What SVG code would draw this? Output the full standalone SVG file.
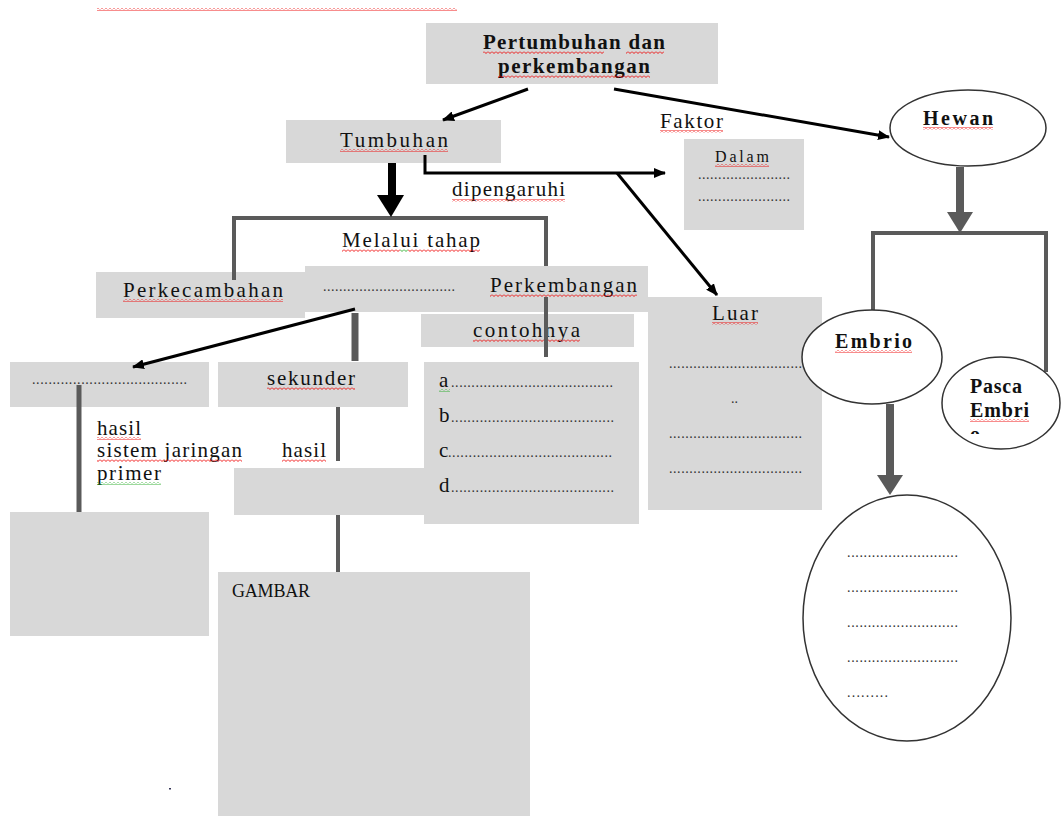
<svg xmlns="http://www.w3.org/2000/svg" width="1061" height="816" viewBox="0 0 1061 816">
<style>
.box{fill:#d8d8d8}
.t{font-family:"Liberation Serif","Times New Roman",serif;font-size:21px;fill:#111}
.b{font-weight:bold}
.d{font-family:"Liberation Serif","Times New Roman",serif;font-size:14px;fill:#333}
.g{stroke:#5a5a5a;fill:none}
.k{stroke:#000;fill:none;stroke-width:3}
.ell{fill:#fff;stroke:#333;stroke-width:1.5}
.sq{fill:url(#red)}
.sg{fill:url(#grn)}
</style>
<defs>
<pattern id="red" patternUnits="userSpaceOnUse" width="4" height="3"><path d="M0,0.5 L2,2.5 L4,0.5" stroke="#e00" stroke-width="0.9" fill="none"/></pattern>
<pattern id="grn" patternUnits="userSpaceOnUse" width="4" height="3"><path d="M0,0.5 L2,2.5 L4,0.5" stroke="#2a2" stroke-width="0.9" fill="none"/></pattern>
<marker id="ah" viewBox="0 0 12 10" refX="11" refY="5" markerWidth="12" markerHeight="10" markerUnits="userSpaceOnUse" orient="auto"><path d="M0,0 L12,5 L0,10 Z" fill="#000"/></marker>
<clipPath id="pclip"><rect x="940" y="355" width="121" height="79"/></clipPath>
</defs>

<rect class="sq" x="97" y="8" width="360" height="3"/>

<g id="n-title"><rect class="box" x="426" y="23" width="292" height="61"/>
<text class="t b" x="574" y="49" text-anchor="middle" textLength="182" lengthAdjust="spacing">Pertumbuhan dan</text>
<text class="t b" x="574" y="73" text-anchor="middle" textLength="152" lengthAdjust="spacing">perkembangan</text>
<rect class="sq" x="483" y="51" width="121" height="3"/><rect class="sq" x="626" y="51" width="38" height="3"/>
<rect class="sq" x="498" y="75" width="152" height="3"/></g>

<g id="n-tumbuhan"><rect class="box" x="286" y="120" width="215" height="43"/>
<text class="t" x="340" y="147" textLength="108" lengthAdjust="spacing">Tumbuhan</text>
<rect class="sq" x="340" y="149" width="108" height="3"/></g>

<g id="n-faktor"><text class="t" x="660" y="128" textLength="63" lengthAdjust="spacing">Faktor</text>
<rect class="sq" x="660" y="130" width="63" height="3"/></g>

<g id="n-dalam"><rect class="box" x="684" y="139" width="120" height="91"/>
<text class="t" style="font-size:16px" x="715" y="162" textLength="54" lengthAdjust="spacing">Dalam</text>
<rect class="sq" x="715" y="164" width="54" height="3"/>
<text class="d" x="698" y="179" textLength="92" lengthAdjust="spacing">.......................</text>
<text class="d" x="698" y="201" textLength="92" lengthAdjust="spacing">.......................</text></g>

<g id="n-dipengaruhi"><text class="t" x="452" y="196" textLength="113" lengthAdjust="spacing">dipengaruhi</text>
<rect class="sq" x="452" y="199" width="113" height="3"/></g>

<g id="n-melalui"><text class="t" x="342" y="247" textLength="138" lengthAdjust="spacing">Melalui tahap</text>
<rect class="sq" x="342" y="249" width="58" height="3"/><rect class="sg" x="400" y="249" width="8" height="3"/><rect class="sq" x="408" y="249" width="72" height="3"/></g>

<g id="n-perkecambahan"><rect class="box" x="96" y="272" width="209" height="46"/>
<text class="t" x="123" y="297" textLength="160" lengthAdjust="spacing">Perkecambahan</text>
<rect class="sq" x="123" y="299" width="160" height="3"/></g>

<g id="n-perkembangan"><rect class="box" x="305" y="266" width="343" height="46"/>
<text class="d" x="323" y="291" textLength="132" lengthAdjust="spacing">.................................</text>
<text class="t" x="490" y="292" textLength="147" lengthAdjust="spacing">Perkembangan</text>
<rect class="sq" x="490" y="294" width="147" height="3"/></g>

<g id="n-contohnya"><rect class="box" x="421" y="314" width="213" height="33"/>
<text class="t" x="473" y="337" textLength="107" lengthAdjust="spacing">contohnya</text>
<rect class="sq" x="473" y="339" width="107" height="3"/></g>

<g id="n-primer-box"><rect class="box" x="10" y="362" width="199" height="45"/>
<text class="d" x="32" y="384" textLength="155" lengthAdjust="spacing">......................................</text></g>

<g id="n-sekunder"><rect class="box" x="218" y="362" width="190" height="45"/>
<text class="t" x="267" y="385" textLength="88" lengthAdjust="spacing">sekunder</text>
<rect class="sq" x="267" y="387" width="88" height="3"/></g>

<g id="n-hasil1"><text class="t" x="97" y="435" textLength="44" lengthAdjust="spacing">hasil</text>
<text class="t" x="97" y="457" textLength="145" lengthAdjust="spacing">sistem jaringan</text>
<text class="t" x="97" y="480" textLength="64" lengthAdjust="spacing">primer</text>
<rect class="sq" x="97" y="437" width="44" height="3"/><rect class="sq" x="97" y="459" width="145" height="3"/><rect class="sg" x="97" y="482" width="64" height="3"/></g>

<g id="n-hasil2"><text class="t" x="282" y="457" textLength="44" lengthAdjust="spacing">hasil</text>
<rect class="sq" x="282" y="459" width="44" height="3"/></g>

<g id="n-hasil-box"><rect class="box" x="234" y="468" width="192" height="47"/></g>

<g id="n-contoh-list"><rect class="box" x="424" y="362" width="215" height="162"/>
<text class="t" x="439" y="387">a</text><text class="d" x="451" y="387" textLength="162" lengthAdjust="spacing">........................................</text>
<rect class="sg" x="439" y="389" width="11" height="3"/>
<text class="t" x="439" y="422">b</text><text class="d" x="451" y="422" textLength="163" lengthAdjust="spacing">........................................</text>
<text class="t" x="439" y="457">c</text><text class="d" x="448" y="457" textLength="164" lengthAdjust="spacing">........................................</text>
<text class="t" x="439" y="492">d</text><text class="d" x="451" y="492" textLength="163" lengthAdjust="spacing">........................................</text></g>

<g id="n-luar"><rect class="box" x="648" y="297" width="174" height="213"/>
<text class="t" x="712" y="320" textLength="46" lengthAdjust="spacing">Luar</text>
<rect class="sq" x="712" y="322" width="46" height="3"/>
<text class="d" x="669" y="368" textLength="133" lengthAdjust="spacing">.................................</text>
<text class="d" x="731" y="403">..</text>
<text class="d" x="669" y="438" textLength="133" lengthAdjust="spacing">.................................</text>
<text class="d" x="669" y="473" textLength="133" lengthAdjust="spacing">.................................</text></g>

<g id="n-left-lower"><rect class="box" x="10" y="512" width="199" height="124"/></g>

<g id="n-gambar"><rect class="box" x="218" y="572" width="312" height="244"/>
<text class="t" style="font-size:18px" x="232" y="597" textLength="78" lengthAdjust="spacing">GAMBAR</text></g>

<g id="n-dot"><rect x="169" y="788" width="2" height="1.5" fill="#335"/></g>

<g id="connectors">
<path class="g" stroke-width="4" d="M234,280 V218 H546 V266"/>
<path class="g" stroke-width="4" d="M546,297 V357"/>
<path class="g" stroke-width="7" d="M355,313 V361"/>
<path class="g" stroke-width="5" d="M79,385 V512"/>
<path class="g" stroke-width="4" d="M338,407 V461"/>
<path class="g" stroke-width="4" d="M338,515 V572"/>
<path class="k" d="M528,89 L443,120" marker-end="url(#ah)"/>
<path class="k" d="M614,89 L889,137" marker-end="url(#ah)"/>
<path class="k" d="M425,155 V173 H665" marker-end="url(#ah)"/>
<path class="k" d="M617,173 L717,295" marker-end="url(#ah)"/>
<path class="k" d="M355,309 L133,367" marker-end="url(#ah)"/>
<path stroke="#000" stroke-width="8" d="M392,163 V198"/>
<path fill="#000" d="M377,195 L404,195 L391,217 Z"/>
<path stroke="#5a5a5a" stroke-width="8" d="M960,167 V215"/>
<path fill="#5a5a5a" d="M947,212 L973,212 L960,233 Z"/>
<path class="g" stroke-width="4" d="M873,311 V233 H1046 V372"/>
<path stroke="#5a5a5a" stroke-width="8" d="M890,404 V478"/>
<path fill="#5a5a5a" d="M877,475 L903,475 L890,495 Z"/>
</g>

<g id="n-hewan"><ellipse class="ell" cx="968" cy="128" rx="78" ry="38"/>
<text class="t b" style="font-size:20px" x="923" y="125" textLength="70" lengthAdjust="spacing">Hewan</text>
<rect class="sq" x="923" y="127" width="70" height="3"/></g>

<g id="n-embrio"><ellipse class="ell" cx="872" cy="357" rx="70" ry="47"/>
<text class="t b" style="font-size:20px" x="835" y="348" textLength="77" lengthAdjust="spacing">Embrio</text>
<rect class="sq" x="835" y="350" width="77" height="3"/></g>

<g id="n-pasca"><ellipse class="ell" cx="1001" cy="403" rx="59" ry="46"/>
<text class="t b" style="font-size:20px" x="970" y="393" textLength="52" lengthAdjust="spacing">Pasca</text>
<text class="t b" style="font-size:20px" x="970" y="417" textLength="59" lengthAdjust="spacing">Embri</text>
<rect class="sq" x="970" y="419" width="59" height="3"/>
<text class="t b" style="font-size:20px" clip-path="url(#pclip)" x="970" y="441">o</text></g>

<g id="n-embrio-list"><ellipse class="ell" cx="907" cy="618" rx="104" ry="123"/>
<text class="d" x="847" y="557" textLength="111" lengthAdjust="spacing">...........................</text>
<text class="d" x="847" y="592" textLength="111" lengthAdjust="spacing">...........................</text>
<text class="d" x="847" y="627" textLength="111" lengthAdjust="spacing">...........................</text>
<text class="d" x="847" y="662" textLength="111" lengthAdjust="spacing">...........................</text>
<text class="d" x="847" y="697" textLength="41" lengthAdjust="spacing">.........</text></g>
</svg>
